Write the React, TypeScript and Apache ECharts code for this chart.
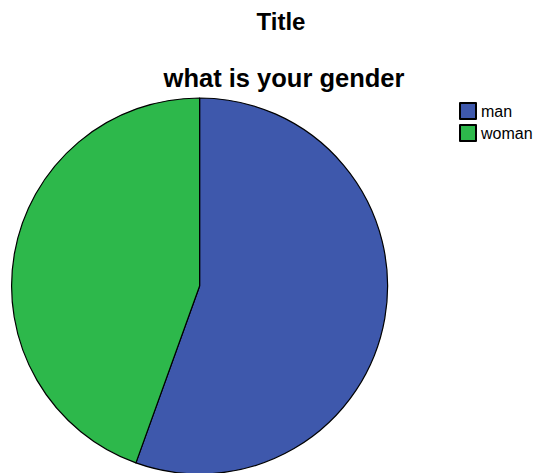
import React, { useEffect, useRef } from "react";
import * as echarts from "echarts";

const categories = ["man", "woman"];
const values = [55.5, 44.5];
const colors = ["#3E58AC", "#2DB84B"];
const titles = ["Title", "what is your gender"];

export default function App() {
  const ref = useRef<HTMLDivElement>(null);
  useEffect(() => {
    if (!ref.current) return;
    const chart = echarts.init(ref.current, null, { renderer: "svg" });
    chart.setOption({
      animation: false,
      backgroundColor: "#ffffff",
      graphic: [
        {
          type: "text",
          x: 281,
          y: 21,
          style: {
            text: titles[0],
            font: "bold 24px 'Liberation Sans', Arial, sans-serif",
            fill: "#000",
            align: "center",
            verticalAlign: "middle",
          },
        },
        {
          type: "text",
          x: 284,
          y: 78,
          style: {
            text: titles[1],
            font: "bold 25.5px 'Liberation Sans', Arial, sans-serif",
            fill: "#000",
            align: "center",
            verticalAlign: "middle",
          },
        },
      ],
      legend: {
        orient: "vertical",
        left: 459,
        top: 102,
        padding: 0,
        itemWidth: 16,
        itemHeight: 16,
        itemGap: 4,
        icon: "rect",
        data: categories,
        textStyle: {
          fontFamily: "'Liberation Sans', Arial, sans-serif",
          fontSize: 16,
          color: "#000",
        },
      },
      series: [
        {
          type: "pie",
          center: [199.6, 286],
          radius: 188,
          startAngle: 90,
          clockwise: true,
          label: { show: false },
          labelLine: { show: false },
          emphasis: { disabled: true },
          itemStyle: { borderColor: "#000", borderWidth: 1.2 },
          data: categories.map((c, i) => ({
            name: c,
            value: values[i],
            itemStyle: { color: colors[i] },
          })),
        },
      ],
    });
    return () => chart.dispose();
  }, []);
  return (
    <div
      ref={ref}
      style={{ position: "fixed", left: 0, top: 0, width: 537, height: 473 }}
    />
  );
}
